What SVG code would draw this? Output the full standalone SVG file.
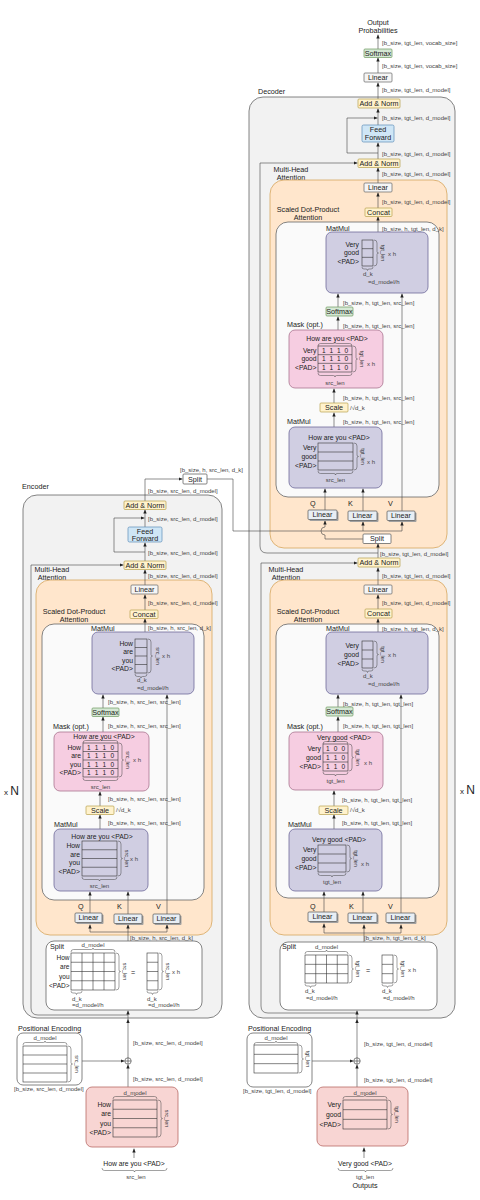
<svg xmlns="http://www.w3.org/2000/svg" width="480" height="1200" viewBox="0 0 480 1200">
<defs>
<style>
.ob{fill:#f2f2f2;stroke:#666;stroke-width:.8}
.or{fill:#ffe6cc;stroke:#d6a65e;stroke-width:.8}
.wi{fill:#fafafa;stroke:#666;stroke-width:.8}
.wb{fill:#fff;stroke:#666;stroke-width:.8}
.pu{fill:#d0cee2;stroke:#6f6a9a;stroke-width:.8}
.pk{fill:#f6cde1;stroke:#a9748f;stroke-width:.8}
.em{fill:#f8d5d3;stroke:#b86a66;stroke-width:.8}
.ye{fill:#fff2cc;stroke:#b8a04a;stroke-width:.7}
.gr{fill:#d5e8d4;stroke:#6f9a60;stroke-width:.7}
.bl{fill:#cfe6f6;stroke:#5b8db8;stroke-width:.7}
.li{fill:#f5f5f5;stroke:#666;stroke-width:.7}
.lq{fill:#e8eef4;stroke:#555;stroke-width:.7}
.sh{fill:#a0a0a0}
.ln{fill:none;stroke:#444;stroke-width:.6}
.a{marker-end:url(#ah)}
.mx{fill:none;stroke:#333;stroke-width:.6}
.br{fill:none;stroke:#444;stroke-width:.5}
text{font-family:"Liberation Sans",Arial,sans-serif;fill:#222}
.t{font-size:7.2px}
.c{text-anchor:middle}
.r{text-anchor:end}
.s{font-size:6px;fill:#444}
.h{font-size:5.5px;fill:#333}
.w{font-size:6.8px}
.d{font-size:6.5px}
</style>
<marker id="ah" viewBox="0 0 6 6" refX="6" refY="3" markerWidth="4" markerHeight="4" orient="auto" markerUnits="userSpaceOnUse"><path d="M0,0.5L6,3L0,5.5z" fill="#222"/></marker>
</defs>
<rect width="480" height="1200" fill="#fff"/>

<g id="encoder-block">
<text class="t" x="22" y="489">Encoder</text>
<rect class="ob" x="23" y="495" width="199" height="523" rx="14"/>
<text class="t c" x="52" y="571.5">Multi-Head</text>
<text class="t c" x="52" y="579.5">Attention</text>
<rect class="or" x="36" y="580" width="176" height="355" rx="14"/>
<text class="t c" x="74" y="613.5">Scaled Dot-Product</text>
<text class="t c" x="74" y="621.5">Attention</text>
<rect class="wi" x="42" y="624" width="162" height="276" rx="12"/>
<text x="4" y="795" font-size="8">x <tspan font-size="12">N</tspan></text>
</g>

<g id="decoder-block">
<text class="t" x="258" y="93.5">Decoder</text>
<rect class="ob" x="249" y="97" width="206" height="921" rx="14"/>
<text class="t c" x="291" y="171.5">Multi-Head</text>
<text class="t c" x="291" y="179.5">Attention</text>
<rect class="or" x="270" y="180" width="177" height="368" rx="14"/>
<text class="t c" x="308" y="211.5">Scaled Dot-Product</text>
<text class="t c" x="308" y="219.5">Attention</text>
<rect class="wi" x="276" y="222" width="163" height="275" rx="12"/>
<text class="t c" x="286" y="571.5">Multi-Head</text>
<text class="t c" x="286" y="579.5">Attention</text>
<rect class="or" x="270" y="580" width="177" height="355" rx="14"/>
<text class="t c" x="308" y="613.5">Scaled Dot-Product</text>
<text class="t c" x="308" y="621.5">Attention</text>
<rect class="wi" x="276" y="624" width="163" height="274" rx="12"/>
<text x="460" y="794" font-size="8">x <tspan font-size="12">N</tspan></text>
</g>

<g id="connectors">
<!-- encoder -->
<path class="ln a" d="M134,1158V1148.5"/>
<path class="ln a" d="M128,1087V1064.5"/>
<path class="ln a" d="M82,1061H124.5"/>
<path class="ln a" d="M128,1058V1019"/>
<path class="ln a" d="M128,1019V1010.5"/>
<path class="ln a" d="M128,1015H38Q31,1015 31,1008V565H123.5"/>
<path class="ln" d="M128,941V932M90,932H167"/>
<path class="ln a" d="M90,932V924.5"/>
<path class="ln a" d="M128,932V924.5"/>
<path class="ln a" d="M167,932V924.5"/>
<path class="ln a" d="M90,913V891.5"/>
<path class="ln a" d="M128,914V891.5"/>
<path class="ln a" d="M167,914V694.5"/>
<path class="ln a" d="M100,829V814.5"/>
<path class="ln a" d="M100,806V791.5"/>
<path class="ln a" d="M103,732V716.5"/>
<path class="ln a" d="M103,708V694.5"/>
<path class="ln a" d="M145,632V618.5"/>
<path class="ln a" d="M145,610V594.5"/>
<path class="ln a" d="M145,585V569.5"/>
<path class="ln a" d="M145,561V542.5"/>
<path class="ln a" d="M145,527V509.5"/>
<path class="ln a" d="M145,552H114V518H144.5"/>
<path class="ln a" d="M145,501V479H182.5"/>
<path class="ln" d="M207,479H233V531H402"/>
<path class="ln a" d="M363,531V521.5"/>
<path class="ln a" d="M402,531V521.5"/>
<!-- decoder self-attention -->
<path class="ln a" d="M364,1158V1147.5"/>
<path class="ln a" d="M357,1087V1064.5"/>
<path class="ln a" d="M312,1061H353.5"/>
<path class="ln a" d="M357,1058V1019"/>
<path class="ln a" d="M357,1019V1010.5"/>
<path class="ln a" d="M357,1013H268Q261,1013 261,1006V563H357.5"/>
<path class="ln" d="M364,942V933M324,933H401"/>
<path class="ln a" d="M324,933V923.5"/>
<path class="ln a" d="M364,933V924.5"/>
<path class="ln a" d="M401,933V924.5"/>
<path class="ln a" d="M324,912V891.5"/>
<path class="ln a" d="M363,913V891.5"/>
<path class="ln a" d="M401,913V694.5"/>
<path class="ln a" d="M334,829V814.5"/>
<path class="ln a" d="M334,806V790.5"/>
<path class="ln a" d="M338,732V716.5"/>
<path class="ln a" d="M338,707V694.5"/>
<path class="ln a" d="M378,632V618.5"/>
<path class="ln a" d="M378,609V594.5"/>
<path class="ln a" d="M378,585V567.5"/>
<path class="ln a" d="M378,558V543.5"/>
<!-- decoder cross-attention -->
<path class="ln a" d="M378,553H267Q260,553 260,546V163H357.5"/>
<path class="ln a" d="M363,539H325V535A4,4 0 0 1 325,527V520.5"/>
<path class="ln a" d="M325,510V488.5"/>
<path class="ln a" d="M363,511V488.5"/>
<path class="ln a" d="M402,511V293.5"/>
<path class="ln a" d="M334,427V412.5"/>
<path class="ln a" d="M334,403V388.5"/>
<path class="ln a" d="M338,330V316.5"/>
<path class="ln a" d="M338,307V293.5"/>
<path class="ln a" d="M378,232V216.5"/>
<path class="ln a" d="M378,208V192.5"/>
<path class="ln a" d="M378,183V167.5"/>
<path class="ln a" d="M378,159V142.5"/>
<path class="ln a" d="M378,125V108.5"/>
<path class="ln a" d="M378,153H347V118H377.5"/>
<path class="ln a" d="M378,99V82.5"/>
<path class="ln a" d="M378,73V57.5"/>
<path class="ln a" d="M378,49V34.5"/>
<!-- shape labels -->
<text class="s" x="180" y="472">[b_size, h, src_len, d_k]</text>
<text class="s" x="148" y="493">[b_size, src_len, d_model]</text>
<text class="s" x="148" y="521">[b_size, src_len, d_model]</text>
<text class="s" x="148" y="554.5">[b_size, src_len, d_model]</text>
<text class="s" x="148" y="577.5">[b_size, src_len, d_model]</text>
<text class="s" x="148" y="605">[b_size, src_len, d_model]</text>
<text class="s" x="148" y="630">[b_size, h, src_len, d_k]</text>
<text class="s" x="108" y="704">[b_size, h, src_len, src_len]</text>
<text class="s" x="108" y="727.5">[b_size, h, src_len, src_len]</text>
<text class="s" x="108" y="801">[b_size, h, src_len, src_len]</text>
<text class="s" x="108" y="825">[b_size, h, src_len, src_len]</text>
<text class="s" x="130" y="940">[b_size, h, src_len, d_k]</text>
<text class="s" x="133" y="1045">[b_size, src_len, d_model]</text>
<text class="s" x="133" y="1081">[b_size, src_len, d_model]</text>
<text class="s" x="14" y="1091">[b_size, src_len, d_model]</text>
<text class="s" x="382" y="45">[b_size, tgt_len, vocab_size]</text>
<text class="s" x="382" y="68">[b_size, tgt_len, vocab_size]</text>
<text class="s" x="382" y="91.5">[b_size, tgt_len, d_model]</text>
<text class="s" x="382" y="120">[b_size, tgt_len, d_model]</text>
<text class="s" x="382" y="155.5">[b_size, tgt_len, d_model]</text>
<text class="s" x="382" y="175.5">[b_size, tgt_len, d_model]</text>
<text class="s" x="382" y="203.5">[b_size, tgt_len, d_model]</text>
<text class="s" x="382" y="230.5">[b_size, h, tgt_len, d_k]</text>
<text class="s" x="343" y="304.5">[b_size, h, tgt_len, src_len]</text>
<text class="s" x="343" y="327.5">[b_size, h, tgt_len, src_len]</text>
<text class="s" x="343" y="399.5">[b_size, h, tgt_len, src_len]</text>
<text class="s" x="343" y="423.5">[b_size, h, tgt_len, src_len]</text>
<text class="s" x="380" y="555.5">[b_size, tgt_len, d_model]</text>
<text class="s" x="382" y="577.5">[b_size, tgt_len, d_model]</text>
<text class="s" x="382" y="604.5">[b_size, tgt_len, d_model]</text>
<text class="s" x="382" y="630.5">[b_size, h, tgt_len, d_k]</text>
<text class="s" x="343" y="705.5">[b_size, h, tgt_len, tgt_len]</text>
<text class="s" x="343" y="727.5">[b_size, h, tgt_len, tgt_len]</text>
<text class="s" x="342" y="801.5">[b_size, h, tgt_len, tgt_len]</text>
<text class="s" x="342" y="824.5">[b_size, h, tgt_len, tgt_len]</text>
<text class="s" x="364" y="939.5">[b_size, h, tgt_len, d_k]</text>
<text class="s" x="364" y="1045.5">[b_size, tgt_len, d_model]</text>
<text class="s" x="364" y="1081.5">[b_size, tgt_len, d_model]</text>
<text class="s" x="243" y="1093">[b_size, tgt_len, d_model]</text>
</g>

<!-- ENCODER NODES -->
<g id="enc-split-out"><rect class="wb" x="183" y="474" width="24" height="10" rx="1"/><text class="t c" x="195" y="481.5">Split</text></g>
<g id="enc-addnorm-2"><rect class="ye" x="124" y="501" width="42" height="8.5" rx="1"/><text class="t c" x="145" y="507.8">Add &amp; Norm</text></g>
<g id="enc-ff"><rect class="bl" x="128" y="527" width="34" height="15" rx="1.5"/><text class="t c" x="145" y="533.5">Feed</text><text class="t c" x="145" y="540.5">Forward</text></g>
<g id="enc-addnorm-1"><rect class="ye" x="124" y="561" width="42" height="8.5" rx="1"/><text class="t c" x="145" y="567.8">Add &amp; Norm</text></g>
<g id="enc-linear-out"><rect class="li" x="131" y="585" width="27" height="9" rx="1"/><text class="t c" x="144.5" y="592">Linear</text></g>
<g id="enc-concat"><rect class="ye" x="130" y="610" width="28" height="8.5" rx="1"/><text class="t c" x="144" y="616.8">Concat</text></g>
<g id="enc-matmul-2">
<text class="t" x="91" y="630.5">MatMul</text>
<rect class="pu" x="92" y="632" width="102" height="62" rx="6"/>
<text class="w r" x="133" y="645.6">How</text><text class="w r" x="133" y="654.1">are</text><text class="w r" x="133" y="662.6">you</text><text class="w r" x="133" y="671.1">&lt;PAD&gt;</text>
<rect class="mx" x="135" y="639" width="12" height="34"/><path class="mx" d="M135,647.5h12M135,656h12M135,664.5h12"/>
<path class="br" d="M148,639q3,0 3,3V654.5q0,1.5 1.5,1.5q-1.5,0 -1.5,1.5V670q0,3 -3,3"/>
<text class="h c" transform="translate(156,656) rotate(90)">src_len</text>
<text class="s" x="162" y="658">x h</text>
<path class="br" d="M135,674q0,2.5 2.5,2.5H139.5q1.5,0 1.5,1.5q0,-1.5 1.5,-1.5H144.5q2.5,0 2.5,-2.5"/>
<text class="s" x="137" y="682">d_k</text>
<text class="s" x="137" y="690">=d_model/h</text>
</g>
<g id="enc-softmax"><rect class="gr" x="92" y="708" width="27" height="8.5" rx="1"/><text class="t c" x="105.5" y="714.8">Softmax</text></g>
<g id="enc-mask">
<text class="t" x="53" y="728.5">Mask (opt.)</text>
<rect class="pk" x="54" y="732" width="95" height="59" rx="6"/>
<text class="w c" x="104" y="738.8">How are you &lt;PAD&gt;</text>
<path class="br" d="M83,743q0,-2.5 2.5,-2.5H99q1.5,0 1.5,-1.5q0,1.5 1.5,1.5H115.5q2.5,0 2.5,2.5"/>
<text class="w r" x="81" y="749.6">How</text><text class="w r" x="81" y="758.1">are</text><text class="w r" x="81" y="766.6">you</text><text class="w r" x="81" y="775.1">&lt;PAD&gt;</text>
<rect class="mx" x="83" y="743" width="35" height="34"/><path class="mx" d="M83,751.5h35M83,760h35M83,768.5h35"/>
<text class="d" x="87" y="749.6" textLength="27">1 1 1 0</text>
<text class="d" x="87" y="758.1" textLength="27">1 1 1 0</text>
<text class="d" x="87" y="766.6" textLength="27">1 1 1 0</text>
<text class="d" x="87" y="775.1" textLength="27">1 1 1 0</text>
<path class="br" d="M119,743q3,0 3,3V758.5q0,1.5 1.5,1.5q-1.5,0 -1.5,1.5V774q0,3 -3,3"/>
<text class="h c" transform="translate(126,760) rotate(90)">src_len</text>
<text class="s" x="133" y="762">x h</text>
<path class="br" d="M83,778q0,2.5 2.5,2.5H99q1.5,0 1.5,1.5q0,-1.5 1.5,-1.5H115.5q2.5,0 2.5,-2.5"/>
<text class="s c" x="100.5" y="788.5">src_len</text>
</g>
<g id="enc-scale"><rect class="ye" x="86" y="806" width="28" height="8.5" rx="1"/><text class="t c" x="100" y="812.8">Scale</text><text class="s" x="116" y="812">/√d_k</text></g>
<g id="enc-matmul-1">
<text class="t" x="54" y="827">MatMul</text>
<rect class="pu" x="54" y="829" width="94" height="62" rx="6"/>
<text class="w c" x="102" y="838.5">How are you &lt;PAD&gt;</text>
<text class="w r" x="80" y="847.8">How</text><text class="w r" x="80" y="856.5">are</text><text class="w r" x="80" y="865.3">you</text><text class="w r" x="80" y="874">&lt;PAD&gt;</text>
<rect class="mx" x="82" y="841" width="35" height="35"/><path class="mx" d="M82,849.75h35M82,858.5h35M82,867.25h35"/>
<path class="br" d="M118,841q3,0 3,3V857q0,1.5 1.5,1.5q-1.5,0 -1.5,1.5V873q0,3 -3,3"/>
<text class="h c" transform="translate(125,858.5) rotate(90)">src_len</text>
<text class="s" x="130" y="861">x h</text>
<path class="br" d="M82,877q0,2.5 2.5,2.5H98q1.5,0 1.5,1.5q0,-1.5 1.5,-1.5H114.5q2.5,0 2.5,-2.5"/>
<text class="s c" x="99.5" y="888">src_len</text>
</g>
<g id="enc-linear-q"><text class="t" x="78" y="908.5">Q</text><rect class="sh" x="76.5" y="914.5" width="27" height="9.5" rx="1"/><rect class="lq" x="75" y="913" width="27" height="9.5" rx="1"/><text class="t c" x="88.5" y="920.3">Linear</text></g>
<g id="enc-linear-k"><text class="t" x="117" y="908.5">K</text><rect class="sh" x="115.5" y="915.5" width="28" height="9.5" rx="1"/><rect class="lq" x="114" y="914" width="28" height="9.5" rx="1"/><text class="t c" x="128" y="921.3">Linear</text></g>
<g id="enc-linear-v"><text class="t" x="156" y="908.5">V</text><rect class="sh" x="154.5" y="915.5" width="27" height="9.5" rx="1"/><rect class="lq" x="153" y="914" width="27" height="9.5" rx="1"/><text class="t c" x="166.5" y="921.3">Linear</text></g>
<g id="enc-split">
<rect class="wb" x="46" y="941" width="156" height="69" rx="8"/>
<text class="t" x="50" y="948.5">Split</text>
<text class="s c" x="93" y="946.5">d_model</text>
<path class="br" d="M71,952q0,-2.5 2.5,-2.5H91.5q1.5,0 1.5,-1.5q0,1.5 1.5,1.5H112.5q2.5,0 2.5,2.5"/>
<text class="d r" x="69.5" y="960">How</text><text class="d r" x="69.5" y="969.3">are</text><text class="d r" x="69.5" y="978.5">you</text><text class="d r" x="69.5" y="987.8">&lt;PAD&gt;</text>
<rect class="mx" x="71" y="953" width="44" height="37"/><path class="mx" d="M71,962.25h44M71,971.5h44M71,980.75h44M82,953v37M93,953v37M104,953v37"/>
<path class="br" d="M116,953q3,0 3,3V970q0,1.5 1.5,1.5q-1.5,0 -1.5,1.5V987q0,3 -3,3"/>
<text class="h c" transform="translate(123,971.5) rotate(90)">src_len</text>
<text class="t c" x="133" y="974.5">=</text>
<rect class="mx" x="147" y="953" width="11" height="37"/><path class="mx" d="M147,962.25h11M147,971.5h11M147,980.75h11"/>
<path class="br" d="M159,953q3,0 3,3V970q0,1.5 1.5,1.5q-1.5,0 -1.5,1.5V987q0,3 -3,3"/>
<text class="h c" transform="translate(166,971.5) rotate(90)">src_len</text>
<text class="s" x="172" y="974">x h</text>
<path class="br" d="M71,991q0,2 2,2H75q1.5,0 1.5,1.5q0,-1.5 1.5,-1.5H80q2,0 2,-2"/>
<path class="br" d="M147,991q0,2 2,2H151q1.5,0 1.5,1.5q0,-1.5 1.5,-1.5H156q2,0 2,-2"/>
<text class="s" x="72" y="1000.5">d_k</text><text class="s" x="72" y="1007">=d_model/h</text>
<text class="s" x="147" y="1000.5">d_k</text><text class="s" x="148" y="1007">=d_model/h</text>
</g>
<g id="enc-pos-enc">
<text class="t" x="18" y="1030.5">Positional Encoding</text>
<rect class="wb" x="17" y="1033" width="65" height="52" rx="6"/>
<text class="s c" x="45" y="1040">d_model</text>
<path class="br" d="M23,1045q0,-2.5 2.5,-2.5H43.5q1.5,0 1.5,-1.5q0,1.5 1.5,1.5H64.5q2.5,0 2.5,2.5"/>
<rect class="mx" x="23" y="1046" width="44" height="36"/><path class="mx" d="M23,1055h44M23,1064h44M23,1073h44"/>
<path class="br" d="M68,1046q3,0 3,3V1062.5q0,1.5 1.5,1.5q-1.5,0 -1.5,1.5V1079q0,3 -3,3"/>
<text class="h c" transform="translate(75,1064) rotate(90)">src_len</text>
</g>
<g id="enc-add"><circle cx="128" cy="1061" r="3.2" fill="#fff" stroke="#333" stroke-width=".6"/><path d="M124.8,1061h6.4M128,1057.8v6.4" stroke="#333" stroke-width=".6"/></g>
<g id="enc-embedding">
<rect class="em" x="86" y="1087" width="92" height="60" rx="6"/>
<text class="s c" x="135" y="1094.5">d_model</text>
<path class="br" d="M113,1099q0,-2.5 2.5,-2.5H133.5q1.5,0 1.5,-1.5q0,1.5 1.5,1.5H154.5q2.5,0 2.5,2.5"/>
<text class="w r" x="111" y="1107">How</text><text class="w r" x="111" y="1116.3">are</text><text class="w r" x="111" y="1125.5">you</text><text class="w r" x="111" y="1134.8">&lt;PAD&gt;</text>
<rect class="mx" x="113" y="1100" width="44" height="37"/><path class="mx" d="M113,1109.25h44M113,1118.5h44M113,1127.75h44"/>
<path class="br" d="M158,1100q3,0 3,3V1117q0,1.5 1.5,1.5q-1.5,0 -1.5,1.5V1134q0,3 -3,3"/>
<text class="h c" transform="translate(165,1118.5) rotate(90)">src_len</text>
</g>
<g id="enc-input">
<text class="w c" x="134" y="1165.5">How are you &lt;PAD&gt;</text>
<path class="br" d="M102,1168q0,2.5 2.5,2.5H133q1.5,0 1.5,1.5q0,-1.5 1.5,-1.5H164.5q2.5,0 2.5,-2.5"/>
<text class="s c" x="136" y="1179">src_len</text>
</g>

<!-- DECODER NODES -->
<g id="dec-output"><text class="t c" x="378" y="24.5">Output</text><text class="t c" x="378" y="32.5">Probabilities</text></g>
<g id="dec-softmax-out"><rect class="gr" x="364" y="49" width="28" height="8.5" rx="1"/><text class="t c" x="378" y="55.8">Softmax</text></g>
<g id="dec-linear-out"><rect class="li" x="364" y="73" width="28" height="9" rx="1"/><text class="t c" x="378" y="80">Linear</text></g>
<g id="dec-addnorm-3"><rect class="ye" x="358" y="99" width="42" height="9" rx="1"/><text class="t c" x="379" y="106">Add &amp; Norm</text></g>
<g id="dec-ff"><rect class="bl" x="362" y="125" width="32" height="17" rx="1.5"/><text class="t c" x="378" y="132">Feed</text><text class="t c" x="378" y="139.5">Forward</text></g>
<g id="dec-addnorm-2"><rect class="ye" x="358" y="159" width="42" height="8.5" rx="1"/><text class="t c" x="379" y="165.8">Add &amp; Norm</text></g>
<g id="dec-cross-linear"><rect class="li" x="364" y="183" width="28" height="9" rx="1"/><text class="t c" x="378" y="190">Linear</text></g>
<g id="dec-cross-concat"><rect class="ye" x="365" y="208" width="27" height="8.5" rx="1"/><text class="t c" x="378.5" y="214.8">Concat</text></g>
<g id="dec-cross-matmul-2">
<text class="t" x="326" y="230.5">MatMul</text>
<rect class="pu" x="326" y="232" width="102" height="61" rx="6"/>
<text class="w r" x="359" y="246.7">Very</text><text class="w r" x="359" y="255.4">good</text><text class="w r" x="359" y="264.1">&lt;PAD&gt;</text>
<rect class="mx" x="362" y="240" width="11" height="26"/><path class="mx" d="M362,248.67h11M362,257.33h11"/>
<path class="br" d="M374,240q3,0 3,3V251.5q0,1.5 1.5,1.5q-1.5,0 -1.5,1.5V263q0,3 -3,3"/>
<text class="h c" transform="translate(381,253) rotate(90)">tgt_len</text>
<text class="s" x="388" y="255.5">x h</text>
<path class="br" d="M362,267q0,2 2,2H366q1.5,0 1.5,1.5q0,-1.5 1.5,-1.5H371q2,0 2,-2"/>
<text class="s" x="363" y="276">d_k</text><text class="s" x="368" y="283.5">=d_model/h</text>
</g>
<g id="dec-cross-softmax"><rect class="gr" x="326" y="307" width="27" height="9" rx="1"/><text class="t c" x="339.5" y="314">Softmax</text></g>
<g id="dec-cross-mask">
<text class="t" x="287" y="326.5">Mask (opt.)</text>
<rect class="pk" x="289" y="330" width="94" height="58" rx="6"/>
<text class="w c" x="337" y="340.5">How are you &lt;PAD&gt;</text>
<path class="br" d="M318,346q0,-2.5 2.5,-2.5H333.5q1.5,0 1.5,-1.5q0,1.5 1.5,1.5H349.5q2.5,0 2.5,2.5"/>
<text class="w r" x="316.5" y="352.7">Very</text><text class="w r" x="316.5" y="361.4">good</text><text class="w r" x="316.5" y="370.1">&lt;PAD&gt;</text>
<rect class="mx" x="318" y="346" width="34" height="26"/><path class="mx" d="M318,354.67h34M318,363.33h34"/>
<text class="d" x="322" y="352.7" textLength="26">1 1 1 0</text>
<text class="d" x="322" y="361.4" textLength="26">1 1 1 0</text>
<text class="d" x="322" y="370.1" textLength="26">1 1 1 0</text>
<path class="br" d="M353,346q3,0 3,3V357.5q0,1.5 1.5,1.5q-1.5,0 -1.5,1.5V369q0,3 -3,3"/>
<text class="h c" transform="translate(360,359) rotate(90)">tgt_len</text>
<text class="s" x="367" y="365.5">x h</text>
<path class="br" d="M318,373q0,2.5 2.5,2.5H333.5q1.5,0 1.5,1.5q0,-1.5 1.5,-1.5H349.5q2.5,0 2.5,-2.5"/>
<text class="s c" x="335" y="384.5">src_len</text>
</g>
<g id="dec-cross-scale"><rect class="ye" x="320" y="403" width="28" height="9" rx="1"/><text class="t c" x="334" y="410">Scale</text><text class="s" x="350" y="410">/√d_k</text></g>
<g id="dec-cross-matmul-1">
<text class="t" x="287" y="423.5">MatMul</text>
<rect class="pu" x="289" y="427" width="93" height="61" rx="6"/>
<text class="w c" x="339" y="440">How are you &lt;PAD&gt;</text>
<text class="w r" x="316.5" y="449.9">Very</text><text class="w r" x="316.5" y="458.9">good</text><text class="w r" x="316.5" y="467.9">&lt;PAD&gt;</text>
<rect class="mx" x="318" y="443" width="35" height="27"/><path class="mx" d="M318,452h35M318,461h35"/>
<path class="br" d="M354,443q3,0 3,3V455q0,1.5 1.5,1.5q-1.5,0 -1.5,1.5V467q0,3 -3,3"/>
<text class="h c" transform="translate(361,456.5) rotate(90)">tgt_len</text>
<text class="s" x="367" y="463.5">x h</text>
<path class="br" d="M318,471q0,2.5 2.5,2.5H334q1.5,0 1.5,1.5q0,-1.5 1.5,-1.5H350.5q2.5,0 2.5,-2.5"/>
<text class="s c" x="335.5" y="482">src_len</text>
</g>
<g id="dec-cross-linear-q"><text class="t" x="310" y="506">Q</text><rect class="sh" x="309.5" y="511.5" width="29" height="9.5" rx="1"/><rect class="lq" x="308" y="510" width="29" height="9.5" rx="1"/><text class="t c" x="322.5" y="517.3">Linear</text></g>
<g id="dec-cross-linear-k"><text class="t" x="348" y="506">K</text><rect class="sh" x="349.5" y="512.5" width="29" height="9.5" rx="1"/><rect class="lq" x="348" y="511" width="29" height="9.5" rx="1"/><text class="t c" x="362.5" y="518.3">Linear</text></g>
<g id="dec-cross-linear-v"><text class="t" x="388" y="506">V</text><rect class="sh" x="388.5" y="512.5" width="28" height="9.5" rx="1"/><rect class="lq" x="387" y="511" width="28" height="9.5" rx="1"/><text class="t c" x="401" y="518.3">Linear</text></g>
<g id="dec-cross-split"><rect class="wb" x="363" y="534" width="28" height="9.5" rx="1"/><text class="t c" x="377" y="541.3">Split</text></g>
<g id="dec-addnorm-1"><rect class="ye" x="358" y="558" width="42" height="9" rx="1"/><text class="t c" x="379" y="565">Add &amp; Norm</text></g>
<g id="dec-self-linear"><rect class="li" x="364" y="585" width="28" height="9" rx="1"/><text class="t c" x="378" y="592">Linear</text></g>
<g id="dec-self-concat"><rect class="ye" x="365" y="609" width="27" height="9" rx="1"/><text class="t c" x="378.5" y="616">Concat</text></g>
<g id="dec-self-matmul-2">
<text class="t" x="326" y="630.5">MatMul</text>
<rect class="pu" x="326" y="632" width="102" height="62" rx="6"/>
<text class="w r" x="359" y="647.9">Very</text><text class="w r" x="359" y="656.9">good</text><text class="w r" x="359" y="665.9">&lt;PAD&gt;</text>
<rect class="mx" x="362" y="641" width="11" height="27"/><path class="mx" d="M362,650h11M362,659h11"/>
<path class="br" d="M374,641q3,0 3,3V653q0,1.5 1.5,1.5q-1.5,0 -1.5,1.5V665q0,3 -3,3"/>
<text class="h c" transform="translate(381,654.5) rotate(90)">tgt_len</text>
<text class="s" x="388" y="657">x h</text>
<path class="br" d="M362,669q0,2 2,2H366q1.5,0 1.5,1.5q0,-1.5 1.5,-1.5H371q2,0 2,-2"/>
<text class="s" x="363" y="678">d_k</text><text class="s" x="368" y="685.5">=d_model/h</text>
</g>
<g id="dec-self-softmax"><rect class="gr" x="326" y="707" width="27" height="9" rx="1"/><text class="t c" x="339.5" y="714">Softmax</text></g>
<g id="dec-self-mask">
<text class="t" x="287" y="728.5">Mask (opt.)</text>
<rect class="pk" x="289" y="732" width="94" height="58" rx="6"/>
<text class="w c" x="344" y="739.5">Very good &lt;PAD&gt;</text>
<path class="br" d="M323,744q0,-2.5 2.5,-2.5H334q1.5,0 1.5,-1.5q0,1.5 1.5,1.5H345.5q2.5,0 2.5,2.5"/>
<text class="w r" x="321" y="750.9">Very</text><text class="w r" x="321" y="759.9">good</text><text class="w r" x="321" y="768.9">&lt;PAD&gt;</text>
<rect class="mx" x="323" y="744" width="25" height="27"/><path class="mx" d="M323,753h25M323,762h25"/>
<text class="d" x="326" y="750.9" textLength="19">1 0 0</text>
<text class="d" x="326" y="759.9" textLength="19">1 1 0</text>
<text class="d" x="326" y="768.9" textLength="19">1 1 0</text>
<path class="br" d="M349,744q3,0 3,3V756q0,1.5 1.5,1.5q-1.5,0 -1.5,1.5V768q0,3 -3,3"/>
<text class="h c" transform="translate(356,757.5) rotate(90)">tgt_len</text>
<text class="s" x="364" y="765">x h</text>
<path class="br" d="M323,772q0,2.5 2.5,2.5H334q1.5,0 1.5,1.5q0,-1.5 1.5,-1.5H345.5q2.5,0 2.5,-2.5"/>
<text class="s c" x="335.5" y="783">tgt_len</text>
</g>
<g id="dec-self-scale"><rect class="ye" x="319" y="806" width="29" height="8.5" rx="1"/><text class="t c" x="333.5" y="812.8">Scale</text><text class="s" x="350" y="811.5">/√d_k</text></g>
<g id="dec-self-matmul-1">
<text class="t" x="288" y="826.5">MatMul</text>
<rect class="pu" x="289" y="829" width="93" height="62" rx="6"/>
<text class="w c" x="339" y="842">Very good &lt;PAD&gt;</text>
<text class="w r" x="316.5" y="851.9">Very</text><text class="w r" x="316.5" y="860.9">good</text><text class="w r" x="316.5" y="869.9">&lt;PAD&gt;</text>
<rect class="mx" x="318" y="845" width="28" height="27"/><path class="mx" d="M318,854h28M318,863h28"/>
<path class="br" d="M347,845q3,0 3,3V857q0,1.5 1.5,1.5q-1.5,0 -1.5,1.5V869q0,3 -3,3"/>
<text class="h c" transform="translate(354,858.5) rotate(90)">tgt_len</text>
<text class="s" x="361" y="866">x h</text>
<path class="br" d="M318,873q0,2.5 2.5,2.5H330.5q1.5,0 1.5,1.5q0,-1.5 1.5,-1.5H343.5q2.5,0 2.5,-2.5"/>
<text class="s c" x="332" y="884">tgt_len</text>
</g>
<g id="dec-self-linear-q"><text class="t" x="310" y="908.5">Q</text><rect class="sh" x="309.5" y="913.5" width="29" height="9.5" rx="1"/><rect class="lq" x="308" y="912" width="29" height="9.5" rx="1"/><text class="t c" x="322.5" y="919.3">Linear</text></g>
<g id="dec-self-linear-k"><text class="t" x="349" y="908.5">K</text><rect class="sh" x="349.5" y="914.5" width="29" height="9.5" rx="1"/><rect class="lq" x="348" y="913" width="29" height="9.5" rx="1"/><text class="t c" x="362.5" y="920.3">Linear</text></g>
<g id="dec-self-linear-v"><text class="t" x="388" y="908.5">V</text><rect class="sh" x="387.5" y="914.5" width="29" height="9.5" rx="1"/><rect class="lq" x="386" y="913" width="29" height="9.5" rx="1"/><text class="t c" x="400.5" y="920.3">Linear</text></g>
<g id="dec-self-split">
<rect class="wb" x="280" y="942" width="157" height="68" rx="8"/>
<text class="t" x="282" y="948.5">Split</text>
<text class="s c" x="326.5" y="948.5">d_model</text>
<path class="br" d="M305,954q0,-2.5 2.5,-2.5H325q1.5,0 1.5,-1.5q0,1.5 1.5,1.5H345.5q2.5,0 2.5,2.5"/>
<rect class="mx" x="305" y="955" width="43" height="28"/><path class="mx" d="M305,964.33h43M305,973.67h43M315.75,955v28M326.5,955v28M337.25,955v28"/>
<path class="br" d="M349,955q3,0 3,3V967.5q0,1.5 1.5,1.5q-1.5,0 -1.5,1.5V980q0,3 -3,3"/>
<text class="h c" transform="translate(356,969) rotate(90)">tgt_len</text>
<text class="t c" x="368" y="972.5">=</text>
<rect class="mx" x="382" y="955" width="11" height="28"/><path class="mx" d="M382,964.33h11M382,973.67h11"/>
<path class="br" d="M394,955q3,0 3,3V967.5q0,1.5 1.5,1.5q-1.5,0 -1.5,1.5V980q0,3 -3,3"/>
<text class="h c" transform="translate(401,969) rotate(90)">tgt_len</text>
<text class="s" x="408" y="971.5">x h</text>
<path class="br" d="M305,984q0,2 2,2H309q1.5,0 1.5,1.5q0,-1.5 1.5,-1.5H314q2,0 2,-2"/>
<path class="br" d="M382,984q0,2 2,2H386q1.5,0 1.5,1.5q0,-1.5 1.5,-1.5H391q2,0 2,-2"/>
<text class="s" x="305" y="992.5">d_k</text><text class="s" x="306" y="999.5">=d_model/h</text>
<text class="s" x="382" y="992.5">d_k</text><text class="s" x="383" y="999.5">=d_model/h</text>
</g>
<g id="dec-pos-enc">
<text class="t" x="248" y="1030.5">Positional Encoding</text>
<rect class="wb" x="247" y="1033" width="65" height="54" rx="6"/>
<text class="s c" x="276" y="1040">d_model</text>
<path class="br" d="M254,1045q0,-2.5 2.5,-2.5H274.5q1.5,0 1.5,-1.5q0,1.5 1.5,1.5H295.5q2.5,0 2.5,2.5"/>
<rect class="mx" x="254" y="1045" width="44" height="28"/><path class="mx" d="M254,1054.33h44M254,1063.67h44"/>
<path class="br" d="M299,1045q3,0 3,3V1057.5q0,1.5 1.5,1.5q-1.5,0 -1.5,1.5V1070q0,3 -3,3"/>
<text class="h c" transform="translate(306,1059) rotate(90)">tgt_len</text>
</g>
<g id="dec-add"><circle cx="357" cy="1061" r="3.2" fill="#fff" stroke="#333" stroke-width=".6"/><path d="M353.8,1061h6.4M357,1057.8v6.4" stroke="#333" stroke-width=".6"/></g>
<g id="dec-embedding">
<rect class="em" x="317" y="1087" width="91" height="59" rx="6"/>
<text class="s c" x="365" y="1094.5">d_model</text>
<path class="br" d="M343,1099q0,-2.5 2.5,-2.5H363.5q1.5,0 1.5,-1.5q0,1.5 1.5,1.5H384.5q2.5,0 2.5,2.5"/>
<text class="w r" x="341" y="1107.2">Very</text><text class="w r" x="341" y="1116.9">good</text><text class="w r" x="341" y="1126.6">&lt;PAD&gt;</text>
<rect class="mx" x="343" y="1100" width="44" height="29"/><path class="mx" d="M343,1109.67h44M343,1119.33h44"/>
<path class="br" d="M388,1100q3,0 3,3V1113q0,1.5 1.5,1.5q-1.5,0 -1.5,1.5V1126q0,3 -3,3"/>
<text class="h c" transform="translate(395,1114.5) rotate(90)">tgt_len</text>
</g>
<g id="dec-input">
<text class="w c" x="365" y="1165.5">Very good &lt;PAD&gt;</text>
<path class="br" d="M338,1168q0,2.5 2.5,2.5H364q1.5,0 1.5,1.5q0,-1.5 1.5,-1.5H390.5q2.5,0 2.5,-2.5"/>
<text class="s c" x="365" y="1178.5">tgt_len</text>
<text class="t c" x="365" y="1188">Outputs</text>
</g>
</svg>
